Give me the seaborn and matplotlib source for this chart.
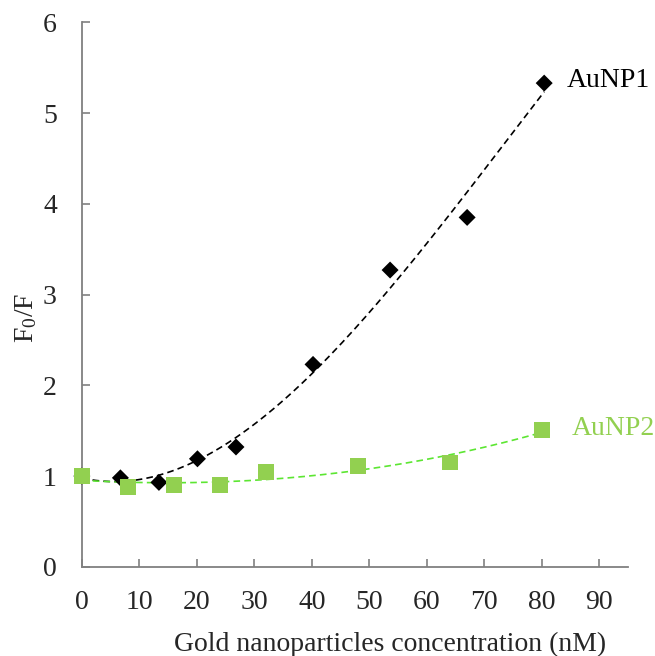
import numpy as np
import pandas as pd
import matplotlib
matplotlib.use("Agg")
import matplotlib.pyplot as plt
import seaborn as sns

# Data
x1 = [0, 6.7, 13.4, 20.1, 26.8, 40.2, 53.6, 67.0, 80.4]
y1 = [1.00, 0.98, 0.93, 1.19, 1.32, 2.23, 3.27, 3.85, 5.33]
x2 = [0, 8, 16, 24, 32, 48, 64, 80]
y2 = [1.00, 0.875, 0.90, 0.90, 1.04, 1.11, 1.15, 1.51]
x_ticks = [0, 10, 20, 30, 40, 50, 60, 70, 80, 90]
y_ticks = [0, 1, 2, 3, 4, 5, 6]

sns.set_style("ticks")
plt.rcParams['font.family'] = ['Liberation Serif', 'DejaVu Serif']
plt.rcParams['mathtext.fontset'] = 'custom'
plt.rcParams['mathtext.rm'] = 'Liberation Serif'
plt.rcParams['mathtext.it'] = 'Liberation Serif'

fig = plt.figure(figsize=(6.55, 6.56), dpi=100)
ax = fig.add_axes([0.125, 0.136, 0.834, 0.830])

GRAY = '#808080'
GREEN = '#92D050'
GREEN_LINE = '#5CE632'

# Trend lines (polynomial fits)
c1 = np.polyfit(x1, y1, 3)
c2 = np.polyfit(x2, y2, 3)
xs1 = np.linspace(min(x1), max(x1), 200)
xs2 = np.linspace(min(x2), max(x2), 200)
t1 = pd.DataFrame({'x': xs1, 'y': np.polyval(c1, xs1)})
t2 = pd.DataFrame({'x': xs2, 'y': np.polyval(c2, xs2)})

sns.lineplot(data=t1, x='x', y='y', ax=ax, color='black', lw=1.2,
             linestyle=(0, (4, 2.5)), zorder=2)
sns.lineplot(data=t2, x='x', y='y', ax=ax, color=GREEN_LINE, lw=1.2,
             linestyle=(0, (4, 2.5)), zorder=2)

d1 = pd.DataFrame({'x': x1, 'y': y1})
d2 = pd.DataFrame({'x': x2, 'y': y2})
sns.scatterplot(data=d1, x='x', y='y', ax=ax, marker='D', s=75,
                color='black', edgecolor='none', zorder=3, clip_on=False)
sns.scatterplot(data=d2, x='x', y='y', ax=ax, marker='s', s=130,
                color=GREEN, edgecolor='none', zorder=4, clip_on=False)

ax.set_xlim(0, 95)
ax.set_ylim(0, 6)
ax.set_xticks(x_ticks)
ax.set_yticks(y_ticks)
ax.tick_params(direction='in', length=6, width=1.2, color=GRAY,
               labelsize=20)
ax.tick_params(axis='x', pad=17)
ax.tick_params(axis='y', pad=18)
for s in ['top', 'right']:
    ax.spines[s].set_visible(False)
for s in ['left', 'bottom']:
    ax.spines[s].set_color(GRAY)
    ax.spines[s].set_linewidth(1.3)

ax.set_xlabel('Gold nanoparticles concentration (nM)', fontsize=20)
ax.set_ylabel('F$_0$/F', fontsize=20)
ax.xaxis.set_label_coords(0.564, -0.12)
ax.yaxis.set_label_coords(-0.079, 0.457)

ax.text(84.3, 5.36, 'AuNP1', fontsize=20, va='center', ha='left', color='black')
ax.text(85.2, 1.52, 'AuNP2', fontsize=20, va='center', ha='left', color=GREEN)

fig.savefig('out.png', dpi=100)
